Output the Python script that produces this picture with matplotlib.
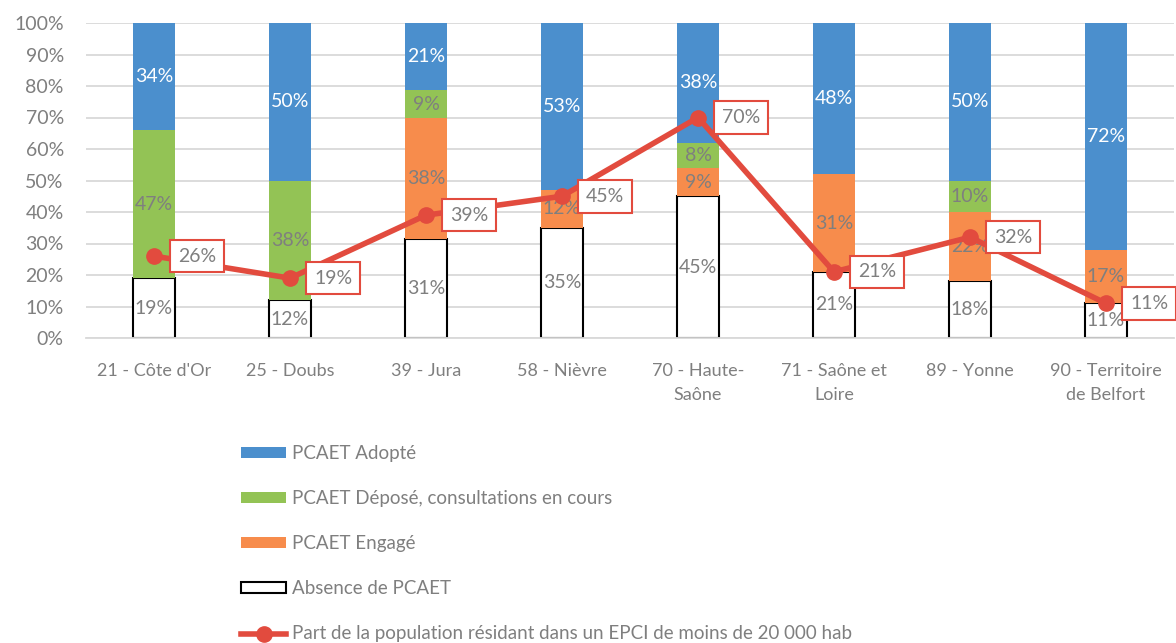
import matplotlib.pyplot as plt
import numpy as np

plt.rcParams['font.family'] = ['Lato', 'DejaVu Sans']

# données
departements = ["21 - Côte d'Or", "25 - Doubs", "39 - Jura", "58 - Nièvre",
                "70 - Haute-\nSaône", "71 - Saône et\nLoire", "89 - Yonne",
                "90 - Territoire\nde Belfort"]
absence = np.array([19, 12, 31, 35, 45, 21, 18, 11])
engage = np.array([0, 0, 38, 12, 9, 31, 22, 17])
depose = np.array([47, 38, 9, 0, 8, 0, 10, 0])
adopte = np.array([34, 50, 21, 53, 38, 48, 50, 72])
part_pop = np.array([26, 19, 39, 45, 70, 21, 32, 11])

gris = '#7f7f7f'
c_bleu = '#4b8fcd'
c_vert = '#93c355'
c_orange = '#f78c4c'
c_rouge = '#e24b3e'

# empilement à 100 % (comme Excel)
total = absence + engage + depose + adopte
p_abs = absence / total * 100
p_eng = engage / total * 100
p_dep = depose / total * 100
p_ado = adopte / total * 100

fig = plt.figure(figsize=(11.76, 6.43), dpi=100)
ax = fig.add_axes([86 / 1176, 1 - 338 / 643, 1088 / 1176, 315 / 643])

x = np.arange(len(departements))
w = 0.31

b_abs = ax.bar(x, p_abs, w, color='white', edgecolor='black', linewidth=1.5,
               label='Absence de PCAET', zorder=2)
b_eng = ax.bar(x, p_eng, w, bottom=p_abs, color=c_orange,
               label='PCAET Engagé', zorder=2)
b_dep = ax.bar(x, p_dep, w, bottom=p_abs + p_eng, color=c_vert,
               label='PCAET Déposé, consultations en cours', zorder=2)
b_ado = ax.bar(x, p_ado, w, bottom=p_abs + p_eng + p_dep, color=c_bleu,
               label='PCAET Adopté', zorder=2)

# étiquettes des segments
for bars, vals, col in [(b_abs, absence, gris), (b_eng, engage, gris),
                        (b_dep, depose, gris), (b_ado, adopte, 'white')]:
    labels = [f'{v}%' if v > 0 else '' for v in vals]
    ax.bar_label(bars, labels=labels, label_type='center', color=col,
                 fontsize=14, zorder=3)

ligne, = ax.plot(x, part_pop, color=c_rouge, linewidth=4, marker='o',
                 markersize=11, zorder=4,
                 label='Part de la population résidant dans un EPCI de moins de 20 000 hab')
for xi, v in zip(x, part_pop):
    ax.annotate(f'{v}%', (xi, v), xytext=(31, 0), textcoords='offset points',
                ha='center', va='center', fontsize=14, color=gris, zorder=5,
                bbox=dict(boxstyle='square,pad=0.4', fc='white', ec=c_rouge, lw=1.5),
                annotation_clip=False)

ax.set_xlim(-0.5, len(departements) - 0.5)
ax.set_ylim(0, 100)
ax.set_yticks(np.arange(0, 101, 10))
ax.set_yticklabels([f'{t}%' for t in range(0, 101, 10)])
ax.set_xticks(x)
ax.set_xticklabels(departements, linespacing=1.6)
ax.tick_params(axis='both', length=0, labelsize=14, labelcolor=gris)
ax.tick_params(axis='x', pad=18, labelsize=13)
ax.tick_params(axis='y', pad=16)
ax.grid(axis='y', color='#d9d9d9', linewidth=1.3, zorder=0)
ax.set_axisbelow(True)
for s in ['top', 'right', 'left']:
    ax.spines[s].set_visible(False)
ax.spines['bottom'].set_color('#d9d9d9')
ax.spines['bottom'].set_linewidth(1.3)

handles = [b_ado, b_dep, b_eng, b_abs, ligne]
labels = [h.get_label() for h in handles]
leg = fig.legend(handles, labels, loc='upper left',
                 bbox_to_anchor=(241 / 1176, 1 - 445 / 643),
                 frameon=False, fontsize=13.5, labelcolor=gris,
                 handlelength=2.4, handleheight=0.5, handletextpad=0.3,
                 labelspacing=1.5, borderpad=0, borderaxespad=0)

fig.savefig('out.png', dpi=100)
